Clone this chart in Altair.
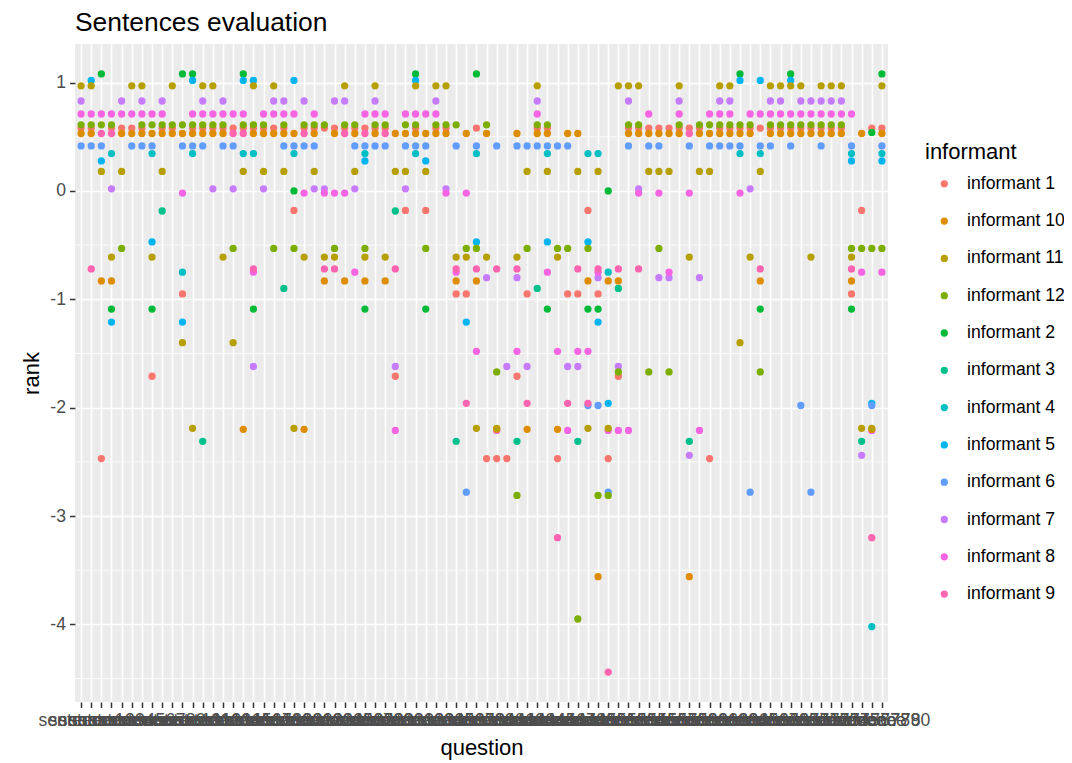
import altair as alt
import pandas as pd

N = None
questions = [f"sentence {i + 1}" for i in range(80)]

# informants in data (drawing) order
informants = ["informant 1", "informant 2", "informant 3", "informant 4", "informant 5", "informant 6",
              "informant 7", "informant 8", "informant 9", "informant 10", "informant 11", "informant 12"]

# legend order (alphabetical, as in the reference)
legend_order = ["informant 1", "informant 10", "informant 11", "informant 12", "informant 2", "informant 3",
                "informant 4", "informant 5", "informant 6", "informant 7", "informant 8", "informant 9"]
legend_colors = ["#F8766D", "#DE8C00", "#B79F00", "#7CAE00", "#00BA38", "#00C08B",
                 "#00BFC4", "#00B4F0", "#619CFF", "#C77CFF", "#F564E3", "#FF64B0"]

inf1 = [0.58, 0.58, -2.47, 0.58, 0.58, 0.58, 0.58, -1.71, 0.58, 0.58,
        -0.95, 0.58, 0.58, 0.58, 0.58, 0.58, 0.58, 0.58, 0.58, 0.58,
        0.58, -0.18, 0.58, 0.58, 0.58, 0.58, 0.58, 0.58, 0.58, 0.58,
        0.58, -1.71, -0.18, 0.58, -0.18, 0.58, 0.58, -0.95, -0.95, 0.58,
        -2.47, -2.47, -2.47, -1.71, -0.95, 0.58, 0.58, -2.47, -0.95, -0.95,
        -0.18, -0.95, -2.47, -1.71, 0.58, 0.58, 0.58, 0.58, 0.58, 0.58,
        0.58, 0.58, -2.47, 0.58, 0.58, 0.58, 0.58, 0.58, 0.58, 0.58,
        0.58, 0.58, 0.58, 0.58, 0.58, 0.58, -0.95, -0.18, 0.58, 0.58]

inf2 = [N, N, 1.08, -1.09, N, N, N, -1.09, N, N,
        1.08, 1.08, N, N, N, N, 1.08, -1.09, N, N,
        N, 0.0, N, N, N, N, N, N, -1.09, N,
        N, N, N, 1.08, -1.09, N, N, N, N, 1.08,
        N, N, N, N, N, N, -1.09, N, N, N,
        -1.09, -1.09, 0.0, N, N, N, N, N, N, N,
        N, N, N, N, N, 1.08, N, -1.09, N, N,
        1.08, N, N, N, N, N, -1.09, N, 0.54, 1.08]

inf3 = [N, N, N, N, N, N, N, N, -0.185, N,
        N, N, -2.31, N, N, N, N, N, N, N,
        -0.90, N, N, N, N, N, N, N, N, N,
        N, -0.185, N, N, N, N, N, -2.31, N, N,
        N, N, N, -2.31, N, -0.90, N, N, N, -2.31,
        N, N, N, -0.90, N, N, N, N, N, N,
        -2.31, N, N, N, N, N, N, N, N, N,
        N, N, N, N, N, N, N, -2.31, N, N]

inf4 = [N, N, N, 0.345, N, N, N, 0.345, N, N,
        -0.75, 0.345, N, N, N, N, 0.345, 0.345, N, N,
        N, 0.345, N, N, N, N, N, N, 0.345, N,
        N, N, N, 0.345, N, N, N, N, N, 0.345,
        N, N, N, N, N, N, 0.345, N, N, N,
        0.345, 0.345, -0.75, N, N, N, N, N, N, N,
        N, N, N, N, N, 0.345, N, 0.345, N, N,
        N, N, N, N, N, N, 0.345, N, -4.02, 0.345]

inf5 = [N, 1.02, 0.277, -1.21, N, N, N, -0.47, N, N,
        -1.21, 1.02, N, N, N, N, 1.02, 1.02, N, N,
        N, 1.02, N, N, N, N, N, N, 0.277, N,
        N, N, N, 1.02, 0.277, N, N, N, -1.21, -0.47,
        N, N, N, N, N, N, -0.47, N, N, N,
        -0.47, -1.21, -1.96, N, N, N, N, N, N, N,
        N, N, N, N, N, 1.02, N, 1.02, N, N,
        1.02, N, N, N, N, N, 0.277, N, -1.96, 0.277]

inf6 = [0.415, 0.415, 0.415, N, N, 0.415, 0.415, 0.415, N, N,
        0.415, 0.415, 0.415, N, 0.415, 0.415, N, N, N, N,
        0.415, 0.415, 0.415, 0.415, N, N, N, 0.415, 0.415, 0.415,
        0.415, N, 0.415, 0.415, 0.415, N, N, 0.415, -2.78, 0.415,
        N, 0.415, N, 0.415, 0.415, 0.415, 0.415, 0.415, 0.415, N,
        -1.98, -1.98, -2.78, N, 0.415, N, 0.415, 0.415, N, N,
        0.415, N, 0.415, 0.415, 0.415, 0.415, -2.78, 0.415, 0.415, N,
        0.415, -1.98, -2.78, 0.415, N, N, 0.415, N, -1.98, 0.415]

inf7 = [0.83, N, N, 0.02, 0.83, N, 0.83, N, 0.83, N,
        N, N, 0.83, 0.02, 0.83, 0.02, N, -1.62, 0.02, 0.83,
        0.83, N, 0.83, 0.02, 0.02, 0.83, 0.83, 0.02, N, 0.83,
        N, -1.62, 0.02, N, N, 0.83, 0.02, N, N, N,
        -0.80, N, -1.62, -0.80, -1.62, 0.83, N, N, -1.62, -1.62,
        N, -0.80, N, -1.62, 0.83, 0.02, N, -0.80, -0.80, 0.83,
        -2.44, -0.80, N, 0.83, 0.83, N, 0.02, N, 0.83, 0.83,
        N, 0.83, 0.83, 0.83, 0.83, 0.83, N, -2.44, N, N]

inf8 = [0.71, 0.71, 0.71, 0.71, 0.71, 0.71, 0.71, 0.71, 0.71, N,
        -0.02, 0.71, 0.71, 0.71, 0.71, 0.71, 0.71, -0.75, 0.71, 0.71,
        0.71, 0.71, -0.02, 0.71, -0.02, -0.02, -0.02, -0.75, 0.71, 0.71,
        0.71, -2.21, 0.71, 0.71, 0.71, 0.71, -0.02, -0.75, -0.02, -1.48,
        N, -2.21, N, -1.48, N, 0.71, -0.75, -1.48, -2.21, -1.48,
        -1.48, -0.75, -2.21, -2.21, -2.21, -0.02, 0.71, -0.02, -0.75, 0.71,
        -0.02, -2.21, 0.71, 0.71, 0.71, -0.02, 0.71, 0.71, 0.71, 0.71,
        0.71, 0.71, 0.71, 0.71, 0.71, 0.71, 0.71, -0.75, -2.21, -0.75]

inf9 = [N, -0.72, 0.53, 0.53, N, N, N, N, N, N,
        N, N, N, N, N, 0.53, 0.53, -0.72, N, N,
        N, N, 0.53, N, -0.72, -0.72, 0.53, N, 0.53, N,
        0.53, -0.72, N, N, N, N, N, -0.72, -1.96, -0.72,
        N, -0.72, N, -0.72, -1.96, N, N, -3.20, -1.96, -0.72,
        -1.96, -0.72, -4.44, -0.72, N, -0.72, N, N, N, N,
        0.53, N, N, N, N, N, N, -0.72, N, N,
        N, N, N, N, N, N, -0.72, N, -3.20, N]

inf10 = [0.53, 0.53, -0.83, -0.83, 0.53, 0.53, 0.53, 0.53, 0.53, 0.53,
         0.53, 0.53, 0.53, 0.53, 0.53, N, -2.20, 0.53, 0.53, 0.53,
         0.53, 0.53, -2.20, 0.53, -0.83, 0.53, -0.83, 0.53, -0.83, 0.53,
         -0.83, 0.53, 0.53, 0.53, 0.53, 0.53, 0.53, -0.83, 0.53, -0.83,
         0.53, -2.20, N, 0.53, -2.20, 0.53, 0.53, -2.20, 0.53, 0.53,
         -0.83, -3.56, -0.83, -0.83, 0.53, 0.53, 0.53, 0.53, 0.53, 0.53,
         -3.56, 0.53, 0.53, 0.53, 0.53, 0.53, 0.53, -0.83, 0.53, 0.53,
         0.53, 0.53, 0.53, 0.53, 0.53, 0.53, -0.83, 0.53, -2.20, 0.53]

inf11 = [0.97, 0.97, 0.18, -0.61, 0.18, 0.97, 0.97, -0.61, 0.18, 0.97,
         -1.40, -2.19, 0.97, 0.97, -0.61, -1.40, 0.18, 0.97, 0.18, 0.97,
         0.18, -2.19, -0.61, 0.18, -0.61, -0.61, 0.97, 0.18, -0.61, 0.97,
         -0.61, 0.18, 0.18, 0.97, 0.18, 0.97, 0.97, -0.61, -0.61, -2.19,
         -0.61, -2.19, N, -0.61, 0.18, 0.97, 0.18, -0.61, N, 0.18,
         -2.19, 0.18, -2.19, 0.97, 0.97, 0.97, 0.18, 0.18, 0.18, 0.97,
         -0.61, 0.18, 0.18, 0.97, 0.97, -1.40, -0.61, 0.18, 0.97, 0.97,
         0.97, 0.97, -0.61, 0.97, 0.97, 0.97, -0.61, -2.19, -2.19, 0.97]

inf12 = [0.61, 0.61, 0.61, 0.61, -0.53, N, 0.61, 0.61, 0.61, 0.61,
         0.61, 0.61, 0.61, 0.61, 0.61, -0.53, 0.61, 0.61, 0.61, -0.53,
         0.61, -0.53, 0.61, 0.61, 0.61, -0.53, 0.61, 0.61, -0.53, 0.61,
         0.61, N, 0.61, 0.61, -0.53, 0.61, 0.61, 0.61, -0.53, -0.53,
         0.61, -1.67, N, -2.81, -0.53, 0.61, 0.61, -0.53, -0.53, -3.95,
         -0.53, -2.81, -2.81, -1.67, 0.61, 0.61, -1.67, -0.53, -1.67, 0.61,
         N, 0.61, 0.61, 0.61, 0.61, 0.61, 0.61, -1.67, 0.61, 0.61,
         0.61, 0.61, 0.61, 0.61, 0.61, 0.61, -0.53, -0.53, -0.53, -0.53]

series = [inf1, inf2, inf3, inf4, inf5, inf6, inf7, inf8, inf9, inf10, inf11, inf12]

y_breaks = [-4, -3, -2, -1, 0, 1]
y_minor = [-4.5, -3.5, -2.5, -1.5, -0.5, 0.5]
y_domain = [-4.716, 1.356]

rows = []
for name, vals in zip(informants, series):
    for q, v in zip(questions, vals):
        if v is not None:
            rows.append({"question": q, "rank": v, "informant": name})
df = pd.DataFrame(rows)

FONT = "Liberation Sans"
W, H = 813, 658

y_scale = alt.Scale(domain=y_domain, nice=False, zero=False)

minor = alt.Chart(pd.DataFrame({"rank": y_minor})).mark_rule(
    color="white", strokeWidth=0.8
).encode(
    y=alt.Y("rank:Q", scale=y_scale, title="rank")
)

points = alt.Chart(df).mark_circle(size=53, opacity=1).encode(
    x=alt.X(
        "question:N",
        sort=questions,
        scale=alt.Scale(type="point", padding=0.6),
        axis=alt.Axis(
            title="question",
            labelAngle=0,
            labelOverlap=False,
            labelFontSize=17.6,
            labelColor="#4D4D4D",
            labelPadding=4,
            tickSize=5.5,
            tickColor="#333333",
            tickWidth=1.5,
            grid=True,
            gridColor="white",
            gridWidth=1.6,
            domain=False,
            titleFontSize=22,
            titleFontWeight="normal",
            titleColor="black",
            titlePadding=8,
        ),
    ),
    y=alt.Y(
        "rank:Q",
        scale=y_scale,
        axis=alt.Axis(
            title="rank",
            values=y_breaks,
            labelExpr="'' + datum.value",
            labelFontSize=17.6,
            labelColor="#4D4D4D",
            labelPadding=4,
            tickSize=5.5,
            tickColor="#333333",
            tickWidth=1.5,
            grid=True,
            gridColor="white",
            gridWidth=1.6,
            domain=False,
            titleFontSize=22,
            titleFontWeight="normal",
            titleColor="black",
            titlePadding=6,
        ),
    ),
    color=alt.Color(
        "informant:N",
        scale=alt.Scale(domain=legend_order, range=legend_colors),
        legend=alt.Legend(
            title="informant",
            orient="none",
            legendX=850,
            legendY=98,
            titleFontSize=22,
            titleFontWeight="normal",
            titleColor="black",
            titlePadding=11,
            labelFontSize=17.6,
            labelColor="black",
            labelLimit=200,
            symbolType="circle",
            symbolSize=53,
            symbolOpacity=1,
            symbolStrokeWidth=0,
            symbolOffset=10.5,
            labelOffset=14,
            rowPadding=18.3,
        ),
    ),
)

chart = alt.layer(minor, points).properties(
    width=W,
    height=H,
    title=alt.TitleParams(
        "Sentences evaluation",
        anchor="start",
        frame="group",
        fontSize=26.4,
        fontWeight="normal",
        color="black",
        font=FONT,
        offset=8,
    ),
    autosize=alt.AutoSizeParams(type="none"),
    padding={"left": 67, "top": 36, "right": 176, "bottom": 60},
).configure(
    font=FONT,
).configure_view(
    fill="#EBEBEB",
    stroke=None,
).configure_axis(
    labelFont=FONT,
    titleFont=FONT,
).configure_legend(
    labelFont=FONT,
    titleFont=FONT,
)

chart.save("out.html", embed_options={"renderer": "svg", "actions": False})
